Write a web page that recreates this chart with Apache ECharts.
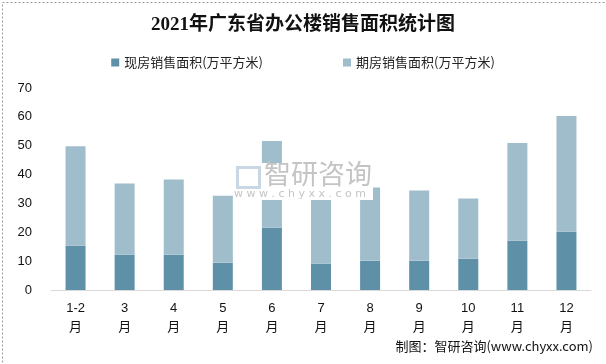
<!DOCTYPE html>
<html><head><meta charset="utf-8">
<script src="https://cdn.jsdelivr.net/npm/echarts@6/dist/echarts.min.js"></script>
<style>html,body{margin:0;padding:0;background:#fff}#c{width:606px;height:364px}</style>
</head><body><div id="c"></div>
<script>
const categories = ['1-2\n月','3\n月','4\n月','5\n月','6\n月','7\n月','8\n月','9\n月','10\n月','11\n月','12\n月'];
const existingArea = [15.3, 12.2, 12.2, 9.4, 21.6, 9.1, 10.1, 10.1, 10.8, 17.1, 20.2];
const futureArea = [34.5, 24.7, 26.1, 23.3, 30.0, 22.3, 25.4, 24.4, 20.9, 33.8, 40.1];
const yTicks = [0, 10, 20, 30, 40, 50, 60, 70];
const seriesNames = ['现房销售面积(万平方米)', '期房销售面积(万平方米)'];

const chart = echarts.init(document.getElementById('c'));
chart.setOption({
  backgroundColor: '#fff',
  animation: false,
  title: {
    text: '2021年广东省办公楼销售面积统计图',
    left: 'center', top: 11,
    textStyle: { fontFamily: '"Liberation Serif","Noto Sans CJK SC",serif', fontSize: 19, fontWeight: 'bold', color: '#111' }
  },
  legend: {
    top: 51, left: 'center', itemGap: 80, itemWidth: 8, itemHeight: 8, icon: 'rect',
    textStyle: { fontFamily: '"Noto Sans CJK SC",sans-serif', fontSize: 13, color: '#222' },
    data: seriesNames
  },
  grid: { left: 51, right: 15, top: 88, bottom: 74 },
  xAxis: {
    type: 'category', data: categories,
    axisLine: { lineStyle: { color: '#d9d9d9', width: 1 } },
    axisTick: { show: false },
    axisLabel: { color: '#111', fontSize: 13, lineHeight: 19, margin: 9, fontFamily: '"Liberation Sans","Noto Sans CJK SC",sans-serif' }
  },
  yAxis: {
    type: 'value', min: yTicks[0], max: yTicks[yTicks.length-1], interval: 10,
    axisLine: { show: false }, axisTick: { show: false },
    splitLine: { show: false },
    axisLabel: { color: '#111', fontSize: 13, margin: 19, fontFamily: '"Liberation Sans",sans-serif' }
  },
  series: [
    { name: seriesNames[0], type: 'bar', stack: 'a', data: existingArea, barWidth: 20, itemStyle: { color: '#5e91a7' } },
    { name: seriesNames[1], type: 'bar', stack: 'a', data: futureArea, barWidth: 20, itemStyle: { color: '#9fbdca' } }
  ],
  graphic: [
    { type: 'rect', left: 0, top: 0, shape: { width: 605, height: 363 }, style: { fill: 'none', stroke: '#999', lineWidth: 1, lineDash: [2,2] }, z: 10 },
    { type: 'rect', left: 233, top: 163, shape: { width: 140, height: 37 }, style: { fill: '#fff' }, z: 5 },
    { type: 'rect', left: 235, top: 165, shape: { width: 22, height: 20 }, style: { fill: 'none', stroke: '#c9d6e3', lineWidth: 3 }, z: 6 },
    { type: 'text', left: 264, top: 160, style: { text: '智研咨询', font: '27px "Noto Sans CJK SC"', fill: '#c4c4c4' }, z: 6 },
    { type: 'text', left: 234, top: 189, style: { text: 'w w w . c h y x x . c o m', font: '11px "DejaVu Sans"', fill: '#c4c4c4' }, z: 6 },
    { type: 'text', right: 13, top: 340, style: { text: '制图：智研咨询(www.chyxx.com)', font: '13px "Noto Sans CJK SC"', fill: '#111' }, z: 6 }
  ]
});
</script></body></html>
